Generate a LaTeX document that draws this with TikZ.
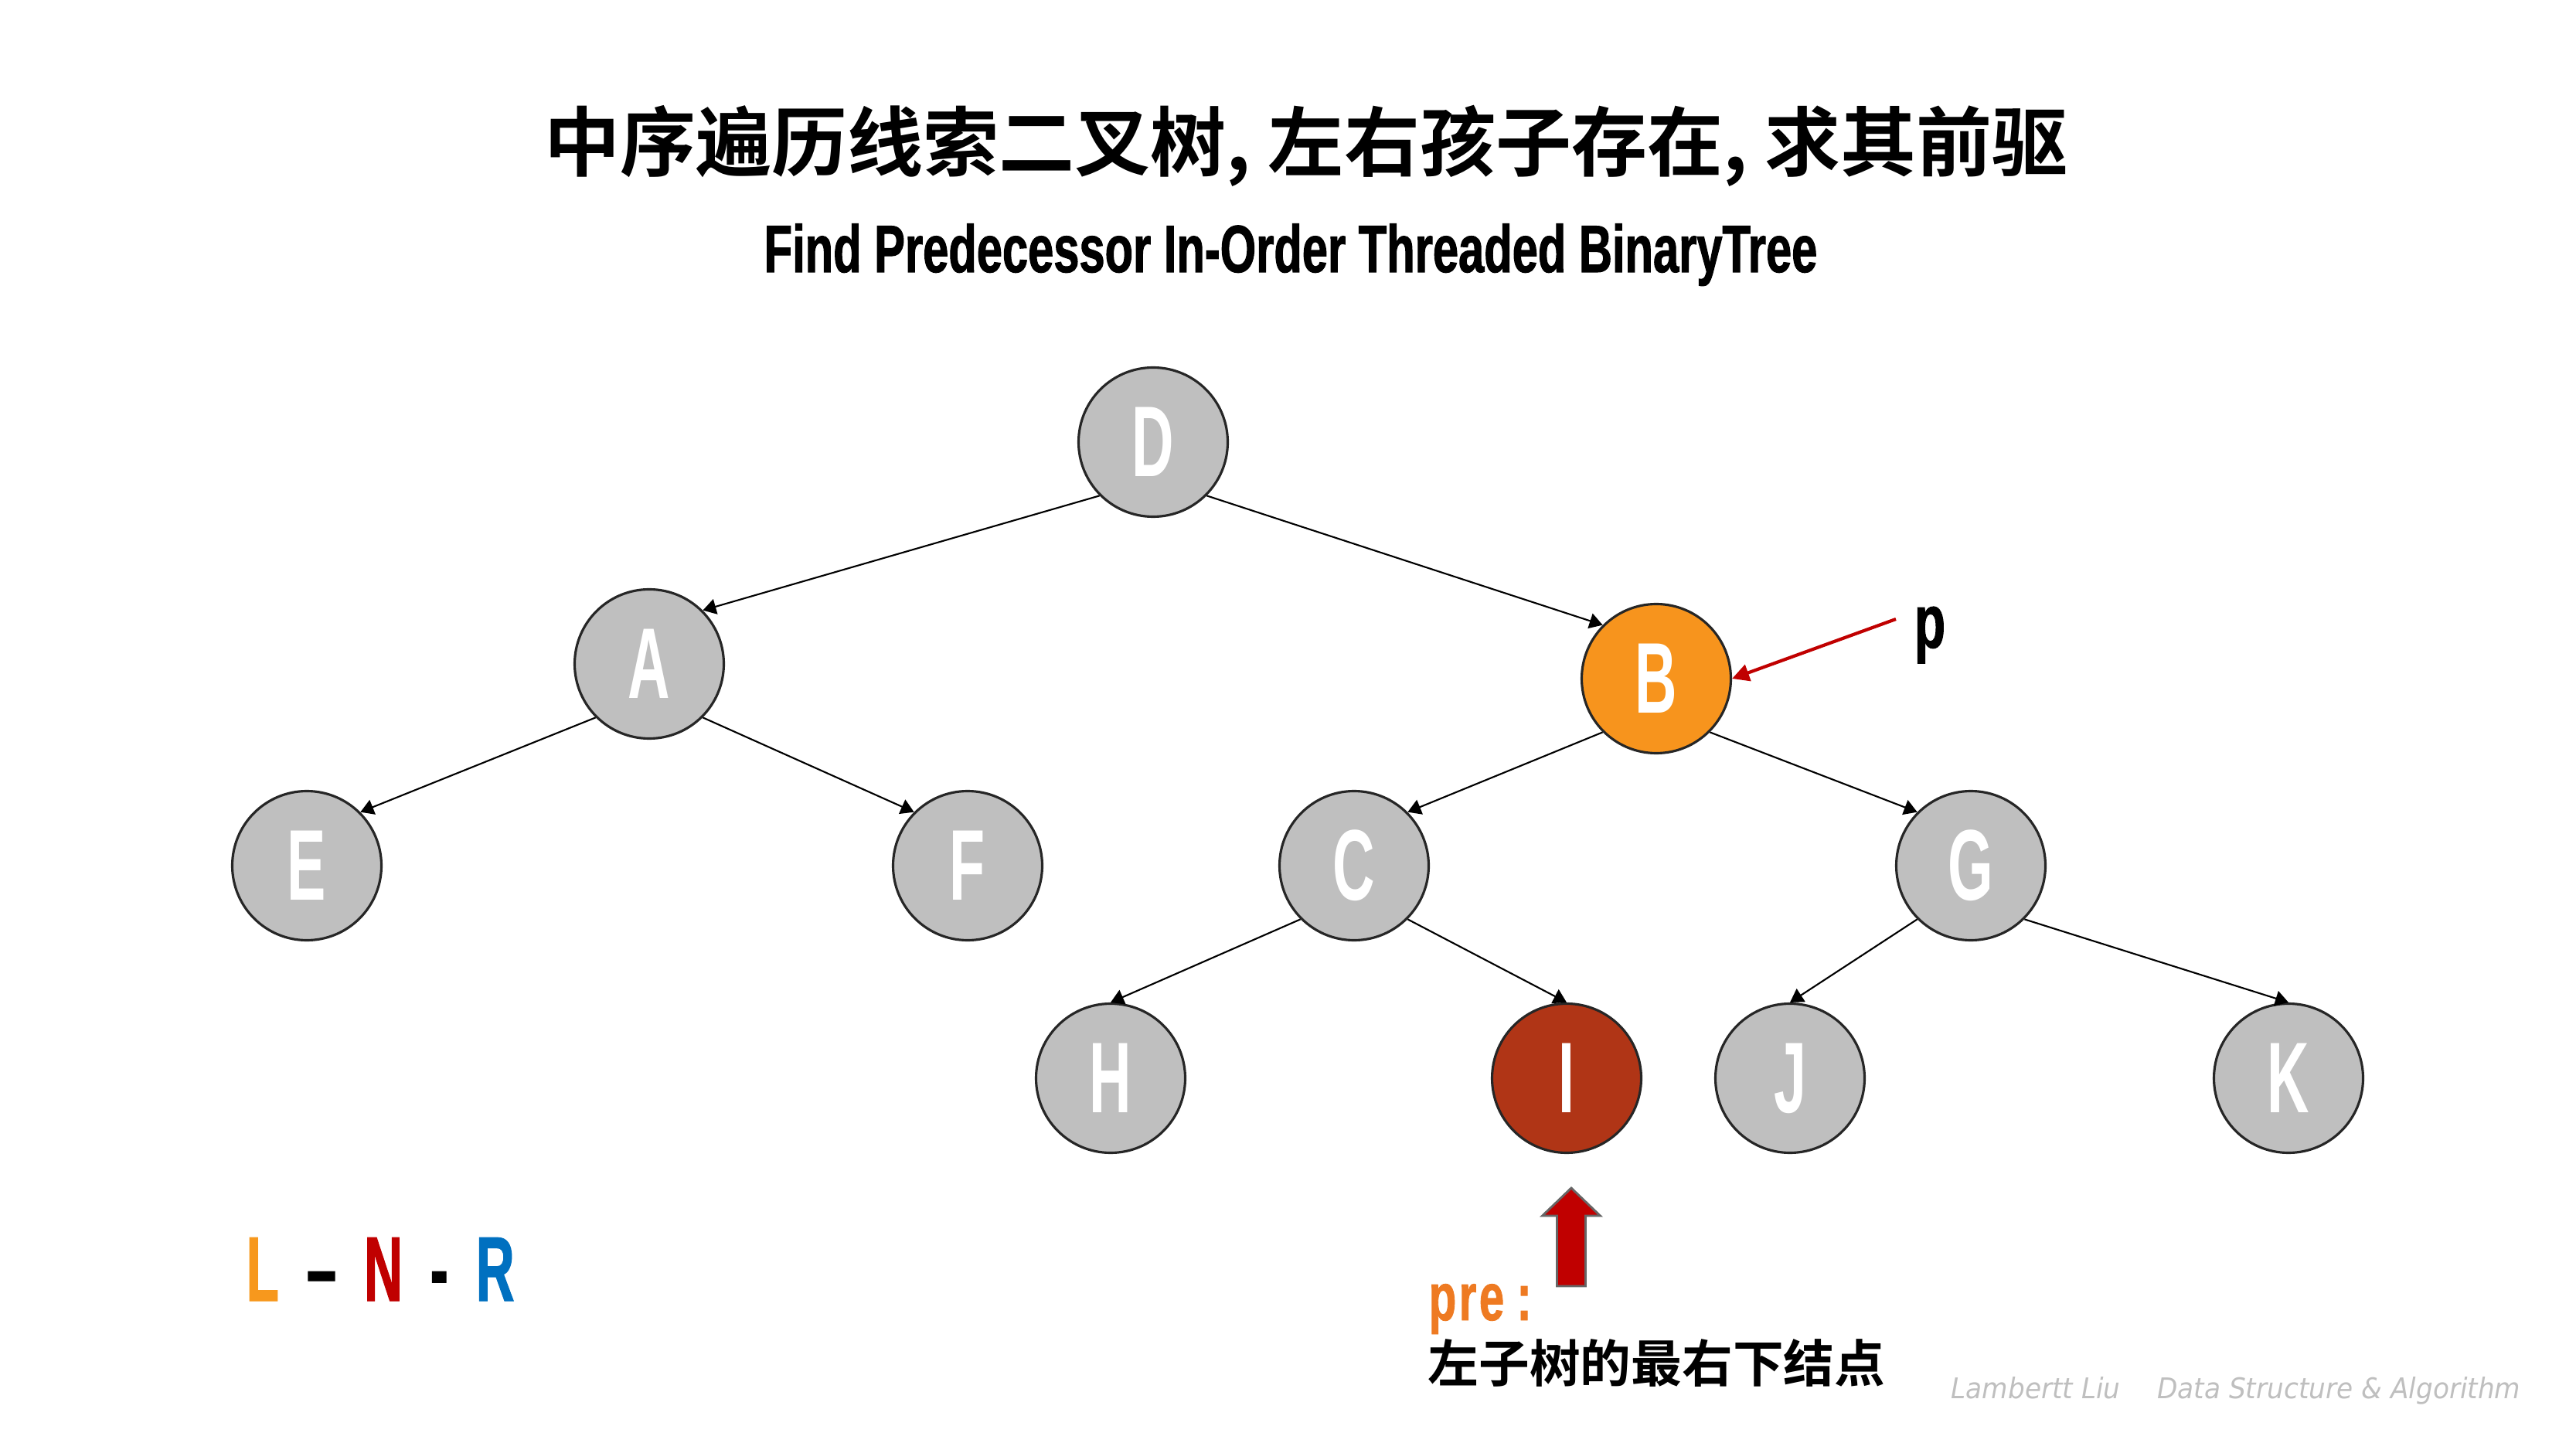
\documentclass[tikz,border=0pt]{standalone}
\usepackage{fontspec}
\usepackage{tikz}
\usetikzlibrary{arrows.meta,positioning}
\usepackage{xcolor}
\setmainfont{Liberation Sans}
\newfontfamily\condfont[FakeStretch=0.58]{Liberation Sans}
\newfontfamily\lnrfont[FakeStretch=0.58,FakeBold=1]{Liberation Sans}
\newfontfamily\subfont[FakeStretch=0.69,FakeBold=1.2]{Liberation Sans}
\newfontfamily\pfont[FakeStretch=0.67,FakeBold=1]{Liberation Sans}
\newfontfamily\cjkbold{Noto Sans CJK SC Bold}
\newfontfamily\markfont[FakeStretch=0.93]{DejaVu Sans}
\definecolor{nodegray}{HTML}{BFBFBF}
\definecolor{rimgray}{HTML}{262626}
\definecolor{pnode}{HTML}{F7941D}
\definecolor{prenode}{HTML}{B03516}
\definecolor{hotred}{HTML}{C00000}
\definecolor{preorange}{HTML}{EE7A22}
\definecolor{lorange}{HTML}{F7981D}
\definecolor{rblue}{HTML}{0070C0}
\definecolor{markgray}{HTML}{BFBFBF}

\tikzset{
  tnode/.style={circle, draw=rimgray, line width=0.9pt, fill=nodegray,
    minimum size=1.93cm, inner sep=0pt, text=white,
    font=\condfont\bfseries\fontsize{37}{37}\selectfont},
  link/.style={-{Triangle[length=0.17cm,width=0.2cm]}, line width=0.6pt},
  parrow/.style={-{Triangle[length=0.22cm,width=0.22cm]}, line width=1.2pt, draw=hotred},
  blockarrow/.style={fill=hotred, draw=gray!80!black, line width=0.8pt, line join=miter},
}

\begin{document}
\begin{tikzpicture}
  \useasboundingbox (0,0) rectangle (33.33,18.75);

  \node (title) at (16.90,16.86) {\cjkbold\fontsize{27.9}{30}\selectfont 中序遍历线索二叉树, 左右孩子存在, 求其前驱};
  \node[anchor=base] (subtitle) at (16.70,15.23) {\subfont\bfseries\fontsize{24.6}{26}\selectfont Find Predecessor In-Order Threaded BinaryTree};

  \node[tnode] (D) at (14.92,13.03) {D};
  \node[tnode] (A) at (8.40,10.16) {A};
  \node[tnode, fill=pnode] (B) at (21.43,9.97) {B};
  \node[tnode] (E) at (3.97,7.55) {E};
  \node[tnode] (F) at (12.52,7.55) {F};
  \node[tnode] (C) at (17.52,7.55) {C};
  \node[tnode] (G) at (25.50,7.55) {G};
  \node[tnode] (H) at (14.37,4.80) {H};
  \node[tnode, fill=prenode] (I) at (20.27,4.80) {I};
  \node[tnode] (J) at (23.16,4.80) {J};
  \node[tnode] (K) at (29.61,4.80) {K};

  \draw[link] (D.south west) -- (A.north east);
  \draw[link] (D.south east) -- (B.north west);
  \draw[link] (A.south west) -- (E.north east);
  \draw[link] (A.south east) -- (F.north west);
  \draw[link] (B.south west) -- (C.north east);
  \draw[link] (B.south east) -- (G.north west);
  \draw[link] (C.south west) -- (H.north);
  \draw[link] (C.south east) -- (I.north);
  \draw[link] (G.south west) -- (J.north);
  \draw[link] (G.south east) -- (K.north);

  % pointer p
  \node[anchor=base, inner sep=0pt] (plabel) at (24.97,10.37) {\pfont\bfseries\fontsize{28}{30}\selectfont p};
  \coordinate (ptail) at (24.53,10.74);
  \draw[parrow] (ptail) -- (B.east);

  % pre marker
  \coordinate (pretip) at (20.33,3.38);
  \draw[blockarrow] (pretip) -- ++(0.375,-0.36) -- ++(-0.19,0) -- ++(0,-0.91)
    -- ++(-0.37,0) -- ++(0,0.91) -- ++(-0.19,0) -- cycle;
  \node[anchor=base west, inner sep=0pt, text=preorange] (prelabel) at (18.48,1.67)
    {\pfont\bfseries\fontsize{24.7}{26}\selectfont p\kern1pt r\kern1pt e\ :};
  \node[anchor=west, inner sep=0pt] (pretext) at (18.47,1.11)
    {\cjkbold\fontsize{18.7}{20}\selectfont 左子树的最右下结点};

  \node[anchor=base west, inner sep=0pt] (order) at (3.18,1.92)
    {\lnrfont\bfseries\fontsize{33.8}{36}\selectfont \textcolor{lorange}{L}\hspace{0.36cm}\textendash\hspace{0.36cm}\textcolor{hotred}{N}\hspace{0.36cm}-\hspace{0.36cm}\textcolor{rblue}{R}};

  \node[anchor=base west, inner sep=0pt, text=markgray] (mark) at (25.24,0.66)
    {\markfont\itshape\fontsize{10.5}{12}\selectfont Lambertt Liu\quad\ Data Structure \& Algorithm};
\end{tikzpicture}
\end{document}
